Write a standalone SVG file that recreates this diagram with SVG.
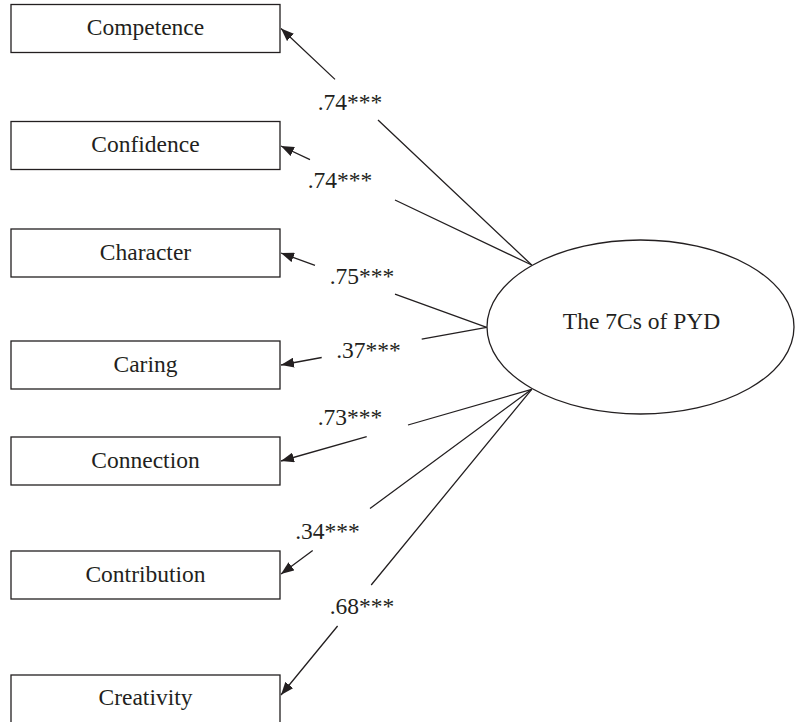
<svg xmlns="http://www.w3.org/2000/svg" width="795" height="722" viewBox="0 0 795 722">
  <style>
    .box { fill: #ffffff; stroke: #231f20; stroke-width: 1.3; }
    .lv { fill: #ffffff; stroke: #231f20; stroke-width: 1.3; }
    .lbl { font-family: "Liberation Serif", "Times New Roman", serif; font-size: 23.5px; fill: #231f20; text-anchor: middle; }
    .path { fill: none; stroke: #231f20; stroke-width: 1.3; marker-end: url(#head); }
  </style>
  <defs>
    <marker id="head" viewBox="0 0 13 10" refX="13" refY="5" markerWidth="13" markerHeight="10" markerUnits="userSpaceOnUse" orient="auto">
      <path d="M0,0 L13,5 L0,10 z" fill="#231f20"/>
    </marker>
  </defs>

  <rect width="795" height="722" fill="#ffffff"/>

  <!-- loadings from the latent factor to its indicators (each broken around its coefficient) -->
  <g id="connectors">
    <path class="path" d="M531.7,265 L378,120 M335,79.4 L281,28.5"/>
    <path class="path" d="M531.7,265 L395,200 M310,159.7 L281,146"/>
    <path class="path" d="M486.7,327.3 L395,294.2 M315,265.3 L281,253"/>
    <path class="path" d="M486.7,327.3 L421.7,339.2 M321.7,357.5 L281,365"/>
    <path class="path" d="M531.7,389.3 L408,425 M366.7,436.7 L281,461"/>
    <path class="path" d="M531.7,389.3 L370,508.4 M312.7,550.6 L281,574"/>
    <path class="path" d="M531.7,389.3 L371.2,585 M337.6,626 L281,695"/>
    <text class="lbl" x="350" y="110">.74***</text>
    <text class="lbl" x="340" y="188.3">.74***</text>
    <text class="lbl" x="362" y="283.5">.75***</text>
    <text class="lbl" x="368.5" y="357.5">.37***</text>
    <text class="lbl" x="350" y="425">.73***</text>
    <text class="lbl" x="327.5" y="538.7">.34***</text>
    <text class="lbl" x="362" y="614">.68***</text>
  </g>

  <g id="competence">
    <rect class="box" x="11" y="4.5" width="269" height="48"/>
    <text class="lbl" x="145.5" y="35">Competence</text>
  </g>
  <g id="confidence">
    <rect class="box" x="11" y="121.5" width="269" height="48"/>
    <text class="lbl" x="145.5" y="152.3">Confidence</text>
  </g>
  <g id="character">
    <rect class="box" x="11" y="229" width="269" height="48"/>
    <text class="lbl" x="145.5" y="259.5">Character</text>
  </g>
  <g id="caring">
    <rect class="box" x="11" y="341" width="269" height="48"/>
    <text class="lbl" x="145.5" y="371.5">Caring</text>
  </g>
  <g id="connection">
    <rect class="box" x="11" y="437" width="269" height="48"/>
    <text class="lbl" x="145.5" y="467.5">Connection</text>
  </g>
  <g id="contribution">
    <rect class="box" x="11" y="551" width="269" height="48"/>
    <text class="lbl" x="145.5" y="581.5">Contribution</text>
  </g>
  <g id="creativity">
    <rect class="box" x="11" y="675" width="269" height="48"/>
    <text class="lbl" x="145.5" y="705">Creativity</text>
  </g>

  <g id="pyd">
    <ellipse class="lv" cx="640.5" cy="327" rx="153.5" ry="87"/>
    <text class="lbl" x="641.5" y="328.5">The 7Cs of PYD</text>
  </g>
</svg>
